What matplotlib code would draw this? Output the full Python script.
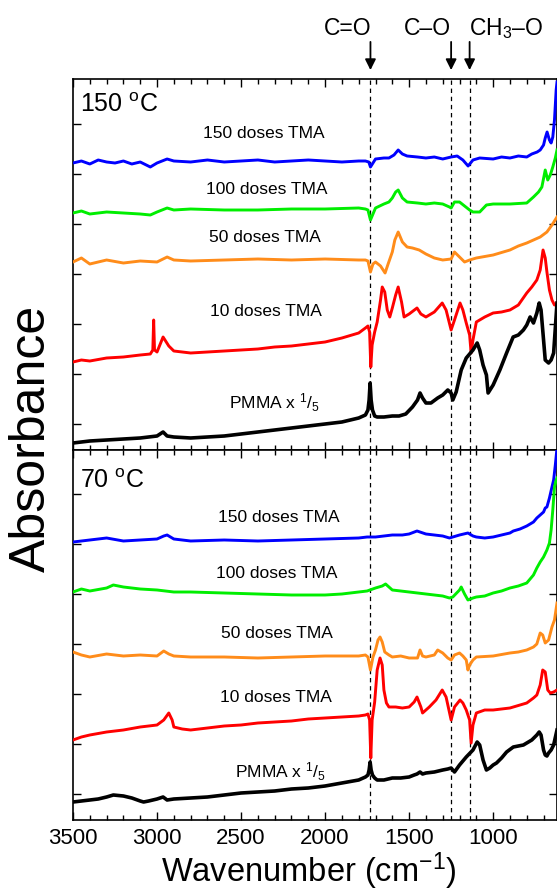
import numpy as np
import matplotlib
matplotlib.use("Agg")
import matplotlib.pyplot as plt
from matplotlib.ticker import MultipleLocator

# ---------------- data: (wavenumber cm-1, absorbance a.u., offset-stacked) ----------------
# 150 C panel
T150_D150 = [(3500,287),(3450,289),(3400,286),(3350,290),(3300,288),(3250,287),(3200,289),(3150,286),
             (3100,288),(3040,283),(3000,287),(2940,291),(2900,289),(2800,288),(2700,290),(2600,288),
             (2500,289),(2400,290),(2300,288),(2200,289),(2100,290),(2000,289),(1900,288),(1800,289),
             (1760,289),(1740,288),(1730,283),(1715,287),(1700,291),(1650,292),(1620,292),(1590,295),
             (1565,300),(1540,296),(1512,294),(1450,293),(1400,292),(1350,293),(1300,291),(1250,293),
             (1214,294),(1180,290),(1149,284),(1120,290),(1080,292),(1000,291),(950,293),(900,292),
             (850,294),(800,293),(770,296),(738,298),(720,300),(700,305),(690,312),(679,318),(665,310),
             (655,307),(645,313),(635,330),(625,360),(620,368)]
T150_D100 = [(3500,237),(3450,239),(3400,236),(3300,238),(3200,237),(3100,236),(3040,235),(3000,238),
             (2940,242),(2900,240),(2800,241),(2600,240),(2400,240),(2200,241),(2000,241),(1800,242),
             (1760,241),(1745,240),(1730,230),(1715,236),(1700,242),(1650,246),(1620,248),(1600,252),
             (1580,258),(1565,260),(1540,252),(1512,248),(1450,247),(1400,246),(1350,247),(1300,246),
             (1260,243),(1250,242),(1230,248),(1200,248),(1170,244),(1140,240),(1120,238),(1080,238),
             (1040,245),(1000,246),(900,246),(800,247),(760,253),(730,258),(710,263),(690,280),
             (675,270),(660,275),(645,283),(630,292),(620,300)]
T150_D50 = [(3500,188),(3450,192),(3400,186),(3300,190),(3200,187),(3100,189),(3000,188),(2940,193),
            (2900,190),(2800,189),(2600,190),(2400,191),(2200,190),(2000,191),(1800,190),(1760,190),
            (1745,189),(1730,178),(1715,186),(1700,188),(1670,184),(1643,177),(1625,186),(1600,198),
            (1585,210),(1565,218),(1540,208),(1512,203),(1480,202),(1440,200),(1400,196),(1350,192),
            (1300,190),(1250,191),(1230,198),(1200,193),(1170,188),(1140,190),(1100,192),(1000,195),
            (900,200),(850,204),(800,207),(760,210),(720,213),(680,218),(650,225),(620,233)]
T150_D10 = [(3500,88),(3450,90),(3400,89),(3300,92),(3200,93),(3100,95),(3040,96),(3025,100),
            (3020,130),(3015,100),(3000,98),(2964,113),(2930,104),(2900,99),(2800,97),(2700,98),
            (2600,99),(2500,100),(2400,101),(2300,103),(2200,104),(2100,106),(2000,108),(1900,112),
            (1800,117),(1760,122),(1745,124),(1735,118),(1728,83),(1720,105),(1705,118),(1690,128),
            (1670,150),(1660,163),(1645,158),(1630,140),(1615,133),(1600,142),(1580,155),(1565,163),
            (1545,148),(1530,133),(1500,136),(1453,142),(1430,136),(1400,133),(1350,138),(1303,147),
            (1280,140),(1250,120),(1230,130),(1197,147),(1180,140),(1160,127),(1140,115),(1131,97),
            (1120,110),(1100,128),(1050,133),(1000,137),(950,138),(900,140),(850,145),(800,157),
            (770,163),(740,170),(720,180),(703,200),(690,192),(680,178),(665,160),(650,150),(635,145),
            (620,147)]
T150_PMMA = [(3500,7),(3450,8),(3400,9),(3300,10),(3200,11),(3100,12),(3000,14),(2964,18),(2940,14),
             (2900,13),(2800,12),(2700,13),(2600,14),(2500,16),(2400,18),(2300,20),(2200,22),(2100,24),
             (2000,26),(1900,28),(1800,32),(1760,35),(1745,40),(1738,50),(1732,67),(1726,50),(1718,40),
             (1705,34),(1690,33),(1650,33),(1600,34),(1560,34),(1520,36),(1480,43),(1450,50),(1435,57),
             (1420,52),(1400,47),(1370,47),(1330,52),(1300,55),(1270,60),(1250,57),(1240,50),(1220,58),
             (1190,80),(1160,92),(1120,100),(1095,107),(1080,100),(1060,85),(1040,75),(1030,57),
             (1000,65),(960,80),(920,97),(881,113),(850,115),(820,120),(800,125),(780,133),(760,127),
             (740,137),(726,147),(715,140),(700,110),(690,90),(670,87),(655,90),(640,97),(620,147)]

# 70 C panel
T70_D150 = [(3500,278),(3400,280),(3300,282),(3200,279),(3100,280),(3000,281),(2960,284),(2940,285),
            (2900,281),(2800,279),(2600,280),(2400,279),(2200,280),(2000,281),(1800,282),(1750,283),
            (1730,283),(1700,283),(1650,284),(1600,285),(1540,285),(1500,286),(1453,289),(1400,286),
            (1300,284),(1260,282),(1240,283),(1200,285),(1150,287),(1120,284),(1100,283),(1050,282),
            (1000,283),(950,285),(900,287),(880,289),(840,291),(800,294),(760,298),(740,302),(720,305),
            (700,308),(690,312),(680,313),(665,322),(650,333),(640,340),(630,355),(620,372)]
T70_D100 = [(3500,228),(3450,231),(3400,229),(3300,232),(3260,235),(3200,233),(3100,231),(3000,230),
            (2900,228),(2800,228),(2600,227),(2400,226),(2200,225),(2000,225),(1900,226),(1800,228),
            (1750,229),(1700,232),(1660,234),(1640,236),(1620,233),(1600,230),(1500,228),(1400,226),
            (1300,224),(1260,222),(1240,223),(1200,230),(1190,233),(1170,226),(1150,220),(1120,222),
            (1100,223),(1050,224),(1000,227),(950,229),(900,232),(850,234),(800,237),(760,245),
            (740,252),(720,258),(700,263),(680,270),(665,277),(655,290),(645,310),(635,333),(625,340),
            (620,342)]
T70_D50 = [(3500,168),(3450,165),(3400,163),(3300,166),(3200,164),(3100,165),(3000,164),(2960,169),
           (2930,166),(2900,164),(2800,163),(2600,163),(2400,162),(2200,163),(2000,164),(1900,164),
           (1800,164),(1760,165),(1745,163),(1730,150),(1715,163),(1700,170),(1685,180),(1673,183),
           (1660,178),(1645,168),(1620,165),(1600,163),(1550,164),(1500,162),(1450,162),(1435,170),
           (1420,164),(1400,163),(1350,165),(1330,170),(1300,167),(1270,162),(1250,160),(1230,165),
           (1200,167),(1180,164),(1160,160),(1150,150),(1140,155),(1120,160),(1100,163),(1000,164),
           (900,167),(850,168),(800,170),(760,173),(740,176),(720,187),(705,185),(690,177),(670,180),
           (650,193),(635,200),(620,217)]
T70_D10 = [(3500,80),(3450,83),(3400,85),(3300,88),(3200,90),(3100,93),(3000,95),(2960,100),(2930,107),
           (2910,100),(2900,93),(2850,91),(2800,90),(2700,92),(2600,94),(2500,95),(2400,97),(2300,98),
           (2200,99),(2100,101),(2000,102),(1900,103),(1800,104),(1760,105),(1745,106),(1735,100),
           (1728,62),(1720,100),(1705,118),(1690,150),(1673,162),(1660,155),(1650,130),(1635,117),
           (1620,113),(1580,113),(1540,112),(1500,113),(1470,118),(1453,123),(1430,113),(1420,107),
           (1380,113),(1340,120),(1303,130),(1280,123),(1250,100),(1230,113),(1197,120),(1180,117),
           (1160,110),(1140,100),(1131,77),(1120,95),(1100,107),(1050,110),(1000,110),(900,112),
           (800,117),(760,122),(740,125),(720,135),(705,150),(690,148),(675,130),(660,127),(640,128),
           (620,130)]
T70_PMMA = [(3500,18),(3450,19),(3400,20),(3350,21),(3300,23),(3260,25),(3200,24),(3150,22),(3100,19),
            (3080,18),(3050,19),(3000,21),(2964,23),(2940,20),(2900,21),(2800,22),(2700,23),(2600,25),
            (2500,27),(2400,28),(2300,29),(2200,31),(2100,32),(2000,34),(1900,37),(1800,40),(1760,43),
            (1745,45),(1738,50),(1732,58),(1726,50),(1718,45),(1705,42),(1690,40),(1650,40),(1600,42),
            (1550,42),(1500,43),(1470,45),(1453,46),(1435,48),(1420,46),(1400,47),(1350,48),(1300,50),
            (1270,51),(1250,52),(1230,48),(1200,55),(1160,63),(1120,70),(1095,78),(1080,75),(1060,60),
            (1040,50),(1020,52),(1000,55),(980,57),(950,62),(920,68),(880,73),(850,74),(820,75),
            (800,77),(770,80),(740,85),(726,88),(715,85),(700,70),(690,65),(680,64),(670,67),(655,70),
            (640,75),(620,90)]

dose_labels = ["150 doses TMA", "100 doses TMA", "50 doses TMA", "10 doses TMA", r"PMMA x $^{1}$/$_{5}$"]
colors = ["#0000ff", "#00ee00", "#ff8c1a", "#ff0000", "#000000"]
temps = ["150 $^{\\mathrm{o}}$C", "70 $^{\\mathrm{o}}$C"]
band_positions = [1730, 1250, 1140]
band_labels = ["C=O", "C\u2013O", "CH$_3$\u2013O"]

# label anchor positions (wavenumber, absorbance) for each panel
label_pos_150 = [(2363, 317), (2345, 261), (2357, 213), (2351, 138), (2298, 47)]
label_pos_70 = [(2274, 302), (2286, 247), (2286, 187), (2292, 123), (2268, 48)]

# ---------------- styling ----------------
plt.rcParams["font.family"] = ["Liberation Sans", "DejaVu Sans"]
plt.rcParams["mathtext.fontset"] = "custom"
plt.rcParams["mathtext.rm"] = "Liberation Sans"
plt.rcParams["mathtext.it"] = "Liberation Sans:italic"
plt.rcParams["mathtext.bf"] = "Liberation Sans:bold"

W, H = 557, 891
fig = plt.figure(figsize=(W / 100, H / 100), dpi=100)
ax1 = fig.add_axes([73 / W, 1 - 450 / H, 484 / W, 371 / H])
ax2 = fig.add_axes([73 / W, 1 - 820 / H, 484 / W, 370 / H])

panels = [
    (ax1, [T150_D150, T150_D100, T150_D50, T150_D10, T150_PMMA], label_pos_150, temps[0]),
    (ax2, [T70_D150, T70_D100, T70_D50, T70_D10, T70_PMMA], label_pos_70, temps[1]),
]

for ax, curves, lpos, temp in panels:
    for curve, col, lab, (lx, ly) in zip(curves, colors, dose_labels, lpos):
        arr = np.array(curve, dtype=float)
        lw = 2.6 if col == "#000000" else 2.1
        ax.plot(arr[:, 0], arr[:, 1], color=col, lw=lw, zorder=3)
        ax.text(lx, ly, lab, ha="center", va="center", fontsize=12.5, zorder=4)
    for b in band_positions:
        ax.axvline(b, color="black", lw=0.9, ls=(0, (3.5, 3)), zorder=2)
    ax.text(0.015, 0.93 if ax is ax1 else 0.915, temp, transform=ax.transAxes,
            ha="left", va="center", fontsize=18)
    ax.set_xlim(3500, 620)
    ax.set_ylim(0, 371 if ax is ax1 else 370)
    ax.xaxis.set_major_locator(MultipleLocator(500))
    ax.xaxis.set_minor_locator(MultipleLocator(100))
    ax.set_yticks(26 + 50 * np.arange(7))
    ax.set_yticklabels([])
    ax.tick_params(which="both", direction="in", top=True, right=True, width=1.0)
    ax.tick_params(which="major", length=6)
    ax.tick_params(which="minor", length=3.5)
    for s in ax.spines.values():
        s.set_linewidth(1.2)

ax1.tick_params(labelbottom=False)
ax2.tick_params(axis="x", labelsize=16, pad=6)

# band arrows and labels above the top panel
trans = ax1.get_xaxis_transform()
label_x = [1863, 1393, 923]
for b, lab, lx in zip(band_positions, band_labels, label_x):
    ax1.annotate("", xy=(b, 1.024), xytext=(b, 1.10), xycoords=trans, textcoords=trans,
                 arrowprops=dict(arrowstyle="-|>", color="black", lw=1.3, mutation_scale=16,
                                 shrinkA=0, shrinkB=0),
                 annotation_clip=False)
    ax1.text(lx, 1.118, lab, transform=trans, ha="center", va="baseline", fontsize=16.5)

fig.text(0.058, 0.508, "Absorbance", rotation=90, ha="center", va="center", fontsize=36)
fig.text(0.555, 0.0105, "Wavenumber (cm$^{-1}$)", ha="center", va="baseline", fontsize=23.5)

fig.savefig("out.png", dpi=100)
